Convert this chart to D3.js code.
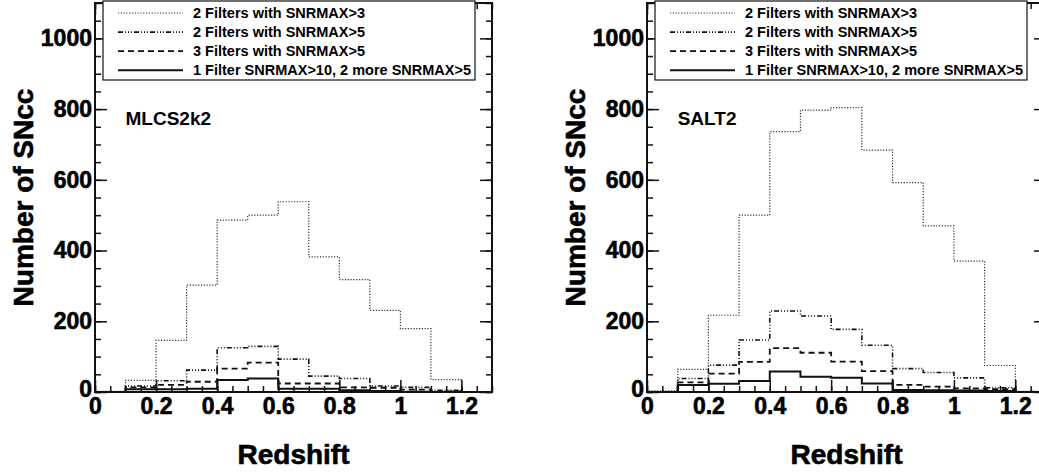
<!DOCTYPE html>
<html>
<head>
<meta charset="utf-8">
<script src="https://cdn.jsdelivr.net/npm/d3@7"></script>
<style>
  body { margin: 0; background: #fff; }
  svg { display: block; font-family: "Liberation Sans", Arial, sans-serif; font-weight: bold; }
  .heavy { stroke: #000; stroke-width: 0.6px; }
</style>
</head>
<body>
<div id="chart"></div>
<script>
const W = 1039, H = 473;

// bin edges: 0.0 .. 1.3, width 0.1
const binEdges = [0, 0.1, 0.2, 0.3, 0.4, 0.5, 0.6, 0.7, 0.8, 0.9, 1.0, 1.1, 1.2, 1.3];

// MLCS2k2 panel
const mlcs2f3 = [2, 33, 146, 302, 486, 500, 538, 382, 318, 231, 179, 35, 0];
const mlcs2f5 = [0, 17, 32, 62, 125, 129, 93, 45, 38, 17, 13, 5, 0];
const mlcs3f5 = [0, 13, 20, 29, 66, 83, 24, 24, 13, 12, 7, 2, 0];
const mlcs1f10 = [0, 8, 8, 9, 34, 38, 9, 9, 5, 3, 1, 0, 0];

// SALT2 panel
const salt2f3 = [3, 64, 217, 500, 736, 797, 804, 684, 592, 470, 370, 75, 1];
const salt2f5 = [0, 38, 76, 147, 229, 215, 177, 132, 66, 55, 40, 12, 1];
const salt3f5 = [0, 27, 52, 85, 124, 111, 86, 59, 20, 15, 10, 8, 0];
const salt1f10 = [0, 20, 23, 31, 58, 43, 40, 24, 6, 5, 4, 3, 0];

const seriesNames = [
  "2 Filters with SNRMAX>3",
  "2 Filters with SNRMAX>5",
  "3 Filters with SNRMAX>5",
  "1 Filter SNRMAX>10, 2 more SNRMAX>5"
];
const xMajor = [0, 0.2, 0.4, 0.6, 0.8, 1, 1.2];
const yMajor = [0, 200, 400, 600, 800, 1000];

// line styles per series (ROOT-ish)
const styles = [
  { dash: "1.2,1.6", width: 1.2, color: "#333" },
  { dash: "5,2,1,2,1,2,1,2", width: 1.6, color: "#111" },
  { dash: "6,4", width: 1.8, color: "#111" },
  { dash: null, width: 2, color: "#111" }
];

const svg = d3.select("#chart").append("svg")
  .attr("width", W).attr("height", H);

function drawPanel(x0, width, label, data) {
  const top = 3, bottom = 392;
  const x = d3.scaleLinear().domain([0, 1.3]).range([x0, x0 + width]);
  const y = d3.scaleLinear().domain([0, 1100]).range([bottom, top]);
  const g = svg.append("g");

  // histograms, drawn as steps
  data.forEach((vals, i) => {
    const pts = [[binEdges[0], 0]];
    vals.forEach((v, j) => {
      pts.push([binEdges[j], v]);
      pts.push([binEdges[j + 1], v]);
    });
    pts.push([binEdges[binEdges.length - 1], 0]);
    const line = d3.line().x(d => x(d[0])).y(d => y(d[1]));
    g.append("path")
      .attr("d", line(pts))
      .attr("fill", "none")
      .attr("stroke", styles[i].color)
      .attr("stroke-width", styles[i].width)
      .attr("stroke-dasharray", styles[i].dash);
  });

  // minor ticks
  const xMinor = d3.range(0, 1.3001, 0.05);
  const yMinor = d3.range(0, 1100.1, 50);
  const tickStyle = sel => {
    sel.select(".domain").remove();
    sel.selectAll("line").attr("stroke", "#111").attr("stroke-width", 1.5);
  };

  g.append("g").attr("transform", `translate(0,${bottom})`)
    .call(d3.axisBottom(x).tickValues(xMinor).tickSize(-6).tickFormat(""))
    .call(tickStyle);
  g.append("g").attr("transform", `translate(0,${top})`)
    .call(d3.axisTop(x).tickValues(xMinor).tickSize(-6).tickFormat(""))
    .call(tickStyle);
  g.append("g").attr("transform", `translate(0,${top})`)
    .call(d3.axisTop(x).tickValues(xMajor).tickSize(-12).tickFormat(""))
    .call(tickStyle);
  g.append("g").attr("transform", `translate(${x0},0)`)
    .call(d3.axisLeft(y).tickValues(yMinor).tickSize(-6).tickFormat(""))
    .call(tickStyle);
  g.append("g").attr("transform", `translate(${x0 + width},0)`)
    .call(d3.axisRight(y).tickValues(yMinor).tickSize(-6).tickFormat(""))
    .call(tickStyle);
  g.append("g").attr("transform", `translate(${x0 + width},0)`)
    .call(d3.axisRight(y).tickValues(yMajor).tickSize(-12).tickFormat(""))
    .call(tickStyle);

  // major ticks with labels
  const xa = g.append("g").attr("transform", `translate(0,${bottom})`)
    .call(d3.axisBottom(x).tickValues(xMajor).tickSize(-12).tickPadding(6)
      .tickFormat(d3.format("")))
    .call(tickStyle);
  const ya = g.append("g").attr("transform", `translate(${x0},0)`)
    .call(d3.axisLeft(y).tickValues(yMajor).tickSize(-12).tickPadding(3)
      .tickFormat(d3.format("d")))
    .call(tickStyle);
  [xa, ya].forEach(a => a.attr("font-family", null).attr("font-size", null)
    .selectAll("text").attr("fill", "#000").attr("class", "heavy")
    .style("font-size", "23px").style("font-weight", "bold"));
  // the y "0" sits a little higher so it only touches the x "0"
  ya.selectAll("text").filter(d => d === 0).attr("dy", "0.2em");

  // frame
  g.append("rect")
    .attr("x", x0).attr("y", top)
    .attr("width", width).attr("height", bottom - top)
    .attr("fill", "none").attr("stroke", "#111").attr("stroke-width", 2);

  // model label
  g.append("text").attr("x", x(0.1)).attr("y", 125)
    .attr("font-size", 19).text(label);

  // axis titles
  g.append("text").attr("class", "heavy")
    .attr("x", x0 + width / 2).attr("y", 464)
    .attr("text-anchor", "middle").attr("font-size", 28)
    .text("Redshift");
  g.append("text").attr("class", "heavy")
    .attr("transform", `translate(${x0 - 62},${(top + bottom) / 2}) rotate(-90)`)
    .attr("text-anchor", "middle").attr("font-size", 28)
    .text("Number of SNcc");

  // legend
  const lx = x0 + 8, ly = 1, lw = 372, lh = 79;
  const leg = g.append("g");
  leg.append("rect").attr("x", lx).attr("y", ly).attr("width", lw).attr("height", lh)
    .attr("fill", "#fff").attr("stroke", "#111").attr("stroke-width", 1.2);
  seriesNames.forEach((name, i) => {
    const cy = 13 + i * 19.1;
    leg.append("line")
      .attr("x1", lx + 15).attr("x2", lx + 80)
      .attr("y1", cy).attr("y2", cy)
      .attr("stroke", styles[i].color)
      .attr("stroke-width", styles[i].width)
      .attr("stroke-dasharray", styles[i].dash);
    leg.append("text")
      .attr("x", lx + 90).attr("y", cy + 5)
      .attr("font-size", 14.5)
      .text(name);
  });
}

drawPanel(95, 397, "MLCS2k2", [mlcs2f3, mlcs2f5, mlcs3f5, mlcs1f10]);
drawPanel(647, 399, "SALT2", [salt2f3, salt2f5, salt3f5, salt1f10]);
</script>
</body>
</html>
